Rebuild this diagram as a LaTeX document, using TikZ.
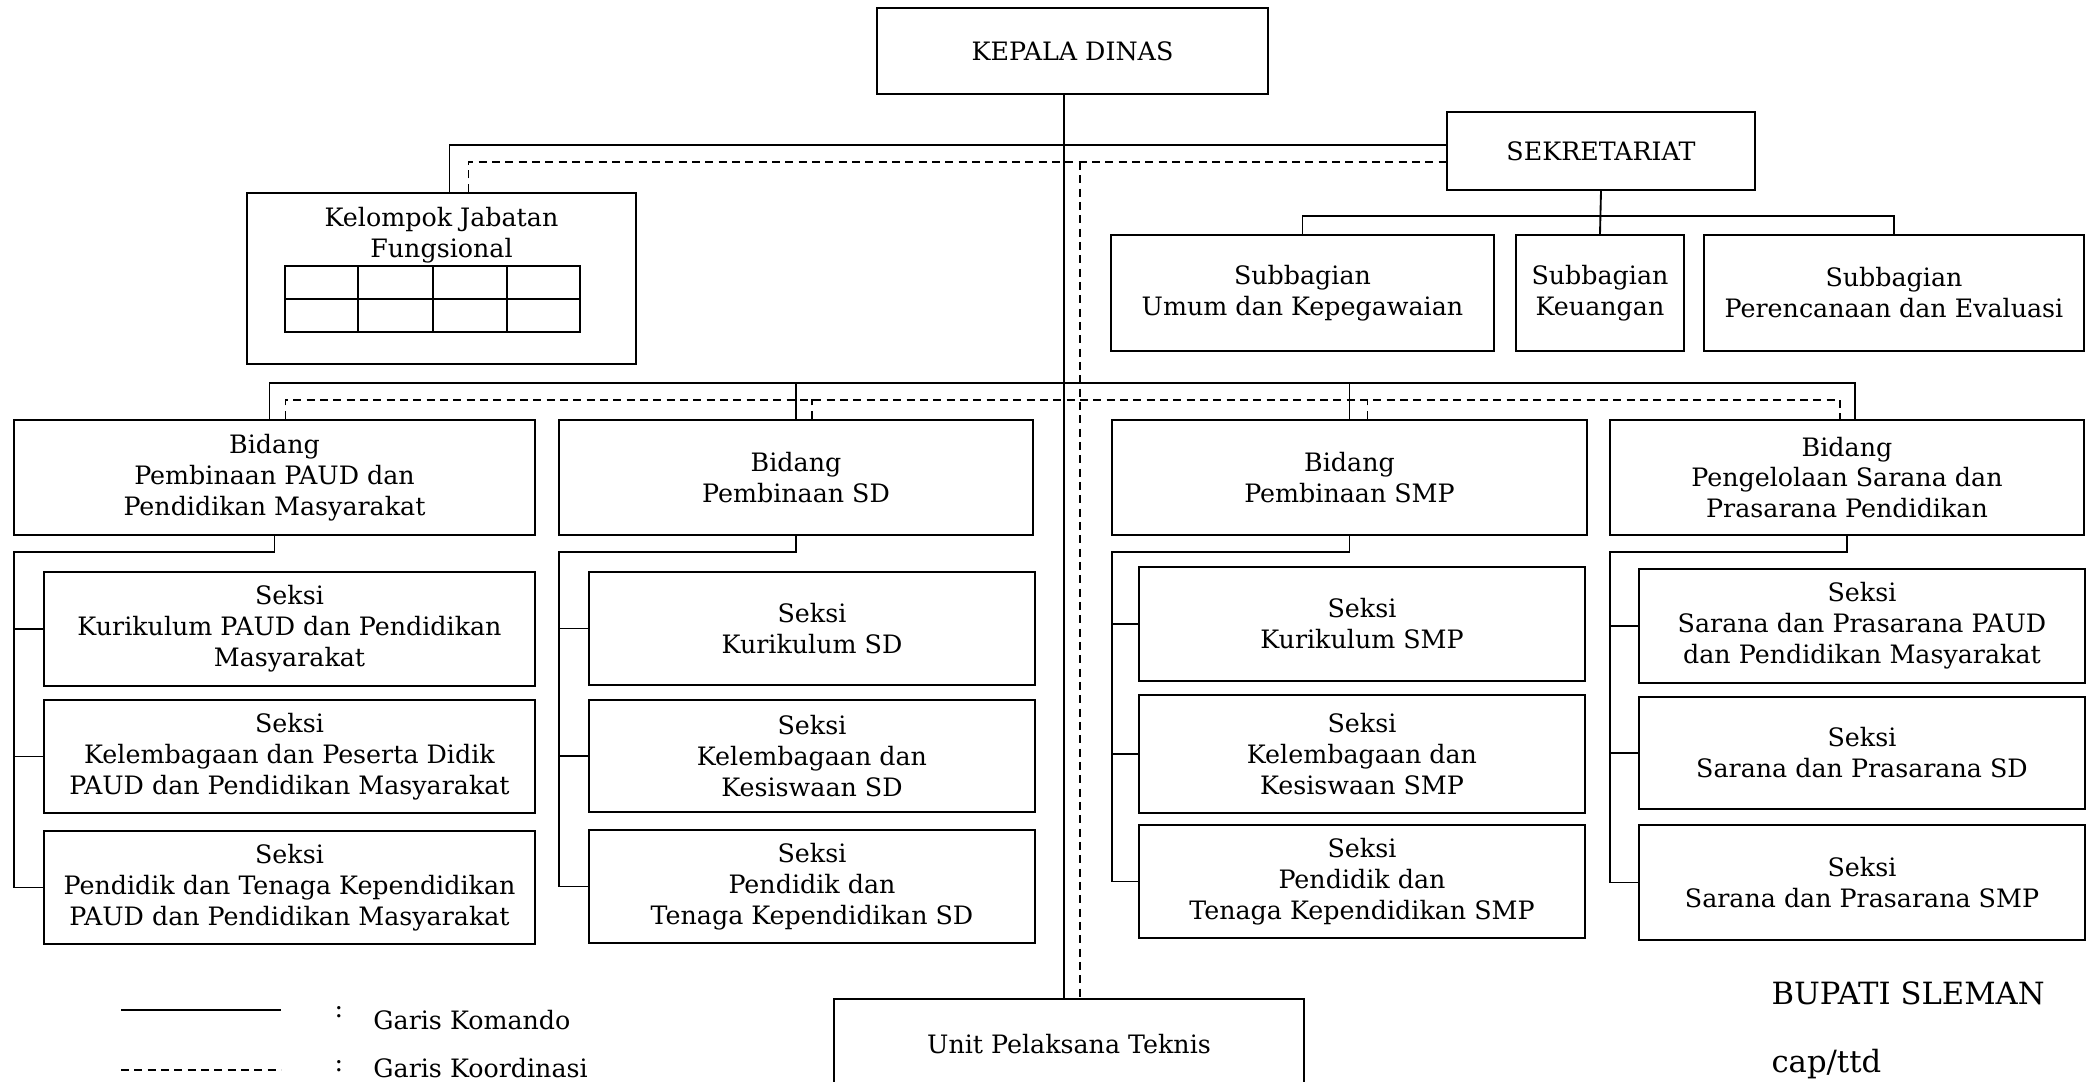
\documentclass[tikz,border=0pt]{standalone}
\usepackage{fontspec}
\setmainfont{DejaVu Serif}
\usetikzlibrary{positioning,calc}
\tikzset{
    % ukuran kotak (dalam piksel gambar)
    boxsize/.style 2 args={minimum width={#1*0.375pt},
                           minimum height={#2*0.375pt}},
    orgchart/.style={
        x=0.375pt, y=-0.375pt,
        font=\fontsize{9.5}{11.6}\selectfont,
        % kotak unit kerja
        unit/.style={draw, rectangle, align=center,
                     inner sep=0pt, line width=0.9pt},
        % garis komando
        komando/.style={line width=0.7pt},
        % garis koordinasi
        koordinasi/.style={line width=0.6pt, dash pattern=on 3pt off 2pt}
    }
}

\begin{document}
\begin{tikzpicture}[orgchart]
    \useasboundingbox (0,0) rectangle (2086,1082);
    % pimpinan dan sekretariat
    \node[unit, boxsize={391}{86}] (kadis) at (1072.5,51) {KEPALA DINAS};
    \node[unit, boxsize={308}{78}] (sekre) at (1601,151) {SEKRETARIAT};
    \node[unit, boxsize={383}{116}] (sub1) at (1302.5,293) {Subbagian\\Umum dan Kepegawaian};
    \node[unit, boxsize={168}{116}] (sub2) at (1600,293) {Subbagian\\Keuangan};
    \node[unit, boxsize={380}{116}] (sub3) at (1894,293) {Subbagian\\Perencanaan dan Evaluasi};
    % kelompok jabatan fungsional
    \node[unit, boxsize={389}{171}] (kjf) at (441.5,278.5) {};
    \node[align=center] (kjflabel) at (441.5,235) {Kelompok Jabatan\\Fungsional};
    \draw[line width=0.8pt] (285,266) rectangle (580,332);
    \draw[line width=0.8pt] (285,299) -- (580,299);
    \foreach \gx in {358,433,507}
        \draw[line width=0.8pt] (\gx,266) -- (\gx,332);
    % bidang
    \node[unit, boxsize={521}{115}] (bpaud) at (274.5,477.5) {Bidang\\Pembinaan PAUD dan\\Pendidikan Masyarakat};
    \node[unit, boxsize={474}{115}] (bsd) at (796,477.5) {Bidang\\Pembinaan SD};
    \node[unit, boxsize={475}{115}] (bsmp) at (1349.5,477.5) {Bidang\\Pembinaan SMP};
    \node[unit, boxsize={474}{115}] (bsar) at (1847,477.5) {Bidang\\Pengelolaan Sarana dan\\Prasarana Pendidikan};
    % seksi
    \node[unit, boxsize={491}{114}] (spaud1) at (289.5,629) {Seksi\\Kurikulum PAUD dan Pendidikan\\Masyarakat};
    \node[unit, boxsize={491}{113}] (spaud2) at (289.5,756.5) {Seksi\\Kelembagaan dan Peserta Didik\\PAUD dan Pendidikan Masyarakat};
    \node[unit, boxsize={491}{113}] (spaud3) at (289.5,887.5) {Seksi\\Pendidik dan Tenaga Kependidikan\\PAUD dan Pendidikan Masyarakat};
    \node[unit, boxsize={446}{113}] (ssd1) at (812,628.5) {Seksi\\Kurikulum SD};
    \node[unit, boxsize={446}{112}] (ssd2) at (812,756) {Seksi\\Kelembagaan dan\\Kesiswaan SD};
    \node[unit, boxsize={446}{113}] (ssd3) at (812,886.5) {Seksi\\Pendidik dan\\Tenaga Kependidikan SD};
    \node[unit, boxsize={446}{114}] (ssmp1) at (1362,624) {Seksi\\Kurikulum SMP};
    \node[unit, boxsize={446}{118}] (ssmp2) at (1362,754) {Seksi\\Kelembagaan dan\\Kesiswaan SMP};
    \node[unit, boxsize={446}{113}] (ssmp3) at (1362,881.5) {Seksi\\Pendidik dan\\Tenaga Kependidikan SMP};
    \node[unit, boxsize={446}{114}] (ssar1) at (1862,626) {Seksi\\Sarana dan Prasarana PAUD\\dan Pendidikan Masyarakat};
    \node[unit, boxsize={446}{112}] (ssar2) at (1862,753) {Seksi\\Sarana dan Prasarana SD};
    \node[unit, boxsize={446}{115}] (ssar3) at (1862,882.5) {Seksi\\Sarana dan Prasarana SMP};
    % unit pelaksana teknis
    \node[unit, boxsize={470}{91}] (upt) at (1069,1044.5) {Unit Pelaksana Teknis};

    % garis komando
    \coordinate (jsolid) at (1064,145);
    \coordinate (bsolid) at (1064,383);
    \coordinate (sekbus) at (1600,216);
    \draw[komando] (kadis.south -| jsolid) -- (jsolid |- upt.north);
    \draw[komando] ($(kjf.north)+(8,0)$) |- ($(sekre.west)+(0,-6)$);
    \draw[komando] (sekre.south) -- (sub2.north);
    \draw[komando] (sub1.north) |- (sekbus) -| (sub3.north);
    \draw[komando] ($(bpaud.north)+(-5,0)$) |- (bsolid) -| ($(bsar.north)+(8,0)$);
    \draw[komando] (bsd.north) -- (bsd.north |- bsolid);
    \draw[komando] (bsmp.north) -- (bsmp.north |- bsolid);
    \foreach \bid/\sek in {bpaud/spaud, bsd/ssd, bsmp/ssmp, bsar/ssar} {
        \coordinate (rail) at ($(\bid.south west)+(1,16)$);
        \draw[komando] (\bid.south) |- (rail) |- (\sek3.west);
        \draw[komando] (rail |- \sek1.west) -- (\sek1.west);
        \draw[komando] (rail |- \sek2.west) -- (\sek2.west);
    }

    % garis koordinasi
    \coordinate (jdash) at (1080,162);
    \coordinate (bdash) at (1080,400);
    \draw[koordinasi] ($(kjf.north)+(27,0)$) |- ($(sekre.west)+(0,11)$);
    \draw[koordinasi] (jdash) -- (jdash |- upt.north);
    \draw[koordinasi] ($(bpaud.north)+(11,0)$) |- (bdash) -| ($(bsar.north)+(-7,0)$);
    \draw[koordinasi] ($(bsd.north)+(16,0)$) -- ($(bsd.north)+(16,-20)$);
    \draw[koordinasi] ($(bsmp.north)+(18,0)$) -- ($(bsmp.north)+(18,-20)$);

    % keterangan
    \coordinate (lk1) at (121,1010);
    \coordinate (lk2) at (281,1010);
    \coordinate (lr1) at (121,1070);
    \coordinate (lr2) at (281,1070);
    \draw[komando, line width=0.9pt] (lk1) -- (lk2);
    \draw[koordinasi] (lr1) -- (lr2);
    \node (ck) at (339,1012) {:};
    \node[anchor=west] (tk) at (364,1020) {Garis Komando};
    \node (cr) at (339,1066) {:};
    \node[anchor=west] (tr) at (364,1068) {Garis Koordinasi};
    \node[anchor=west, inner sep=0pt, font=\fontsize{11.5}{14}\selectfont] (bupati) at (1771,993) {BUPATI SLEMAN};
    \node[anchor=west, inner sep=0pt, font=\fontsize{11.5}{14}\selectfont] (cap) at (1771,1064) {cap/ttd};
\end{tikzpicture}
\end{document}
